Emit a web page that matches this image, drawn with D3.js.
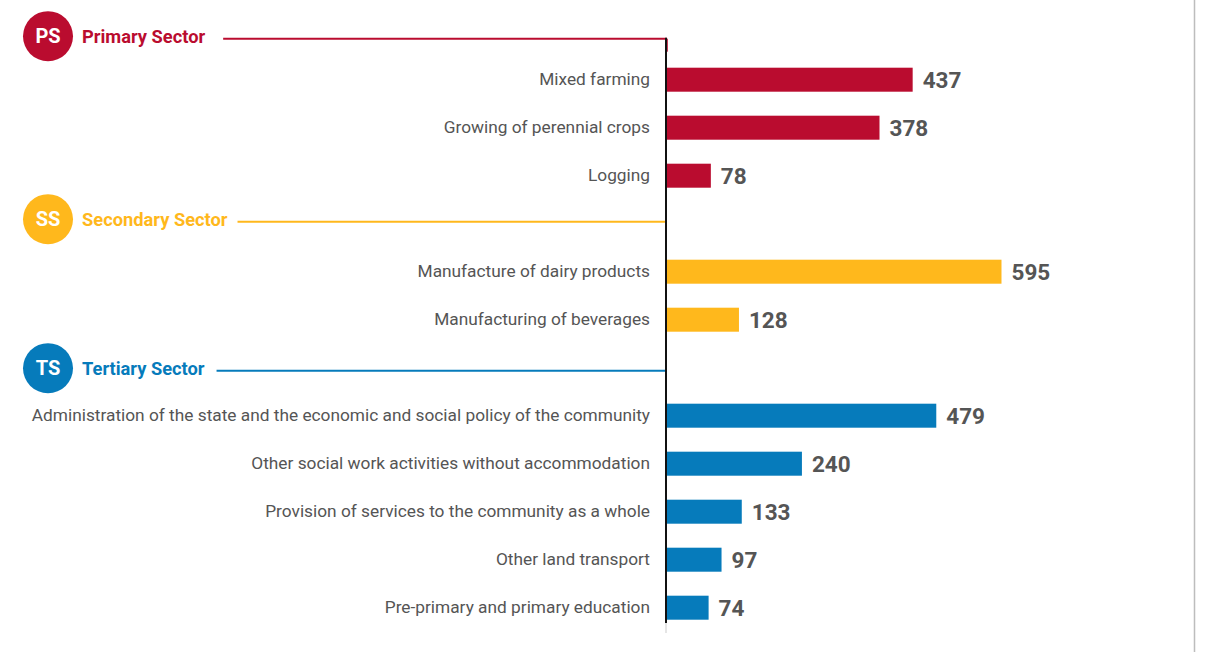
<!DOCTYPE html>
<html>
<head>
<meta charset="utf-8">
<script src="https://cdn.jsdelivr.net/npm/d3@7"></script>
<style>
  html, body { margin: 0; padding: 0; background: #fff; }
  svg { display: block; font-family: Roboto, "Noto Sans", sans-serif; }
</style>
</head>
<body>
<svg id="chart" width="1207" height="652"></svg>
<script>
// Sectors, in drawing order
const sectorCodes  = ["PS", "SS", "TS"];
const sectorNames  = ["Primary Sector", "Secondary Sector", "Tertiary Sector"];
const sectorColors = ["#ba0c2f", "#ffb81c", "#067bbb"];

// Activities and their values, grouped by sector
const primaryActivities   = ["Mixed farming", "Growing of perennial crops", "Logging"];
const primaryValues       = [437, 378, 78];
const secondaryActivities = ["Manufacture of dairy products", "Manufacturing of beverages"];
const secondaryValues     = [595, 128];
const tertiaryActivities  = [
  "Administration of the state and the economic and social policy of the community",
  "Other social work activities without accommodation",
  "Provision of services to the community as a whole",
  "Other land transport",
  "Pre-primary and primary education"
];
const tertiaryValues      = [479, 240, 133, 97, 74];

const groups = [
  { code: sectorCodes[0], name: sectorNames[0], color: sectorColors[0], labels: primaryActivities,   values: primaryValues },
  { code: sectorCodes[1], name: sectorNames[1], color: sectorColors[1], labels: secondaryActivities, values: secondaryValues },
  { code: sectorCodes[2], name: sectorNames[2], color: sectorColors[2], labels: tertiaryActivities,  values: tertiaryValues }
];

// One row per header and per activity
const rows = [];
groups.forEach((g, gi) => {
  rows.push({ key: "h" + gi, header: true, group: g });
  g.labels.forEach((l, i) => rows.push({ key: "r" + gi + "_" + i, header: false, group: g, label: l, value: g.values[i] }));
});

const svg = d3.select("#chart");
const axisX = 666;

const x = d3.scaleLinear().domain([0, 600]).range([axisX + 1, axisX + 1 + 337.3]);
const y = d3.scaleBand()
  .domain(rows.map(r => r.key))
  .range([7.7, 631.7])
  .paddingInner(0.5)
  .paddingOuter(0.25);
const yc = k => y(k) + y.bandwidth() / 2;

// Right frame line
svg.append("line")
  .attr("x1", 1194.5).attr("x2", 1194.5).attr("y1", 0).attr("y2", 652)
  .attr("stroke", "#bdbdbd").attr("stroke-width", 1.5);

// Header row positions: first sits above its group, later ones between groups
const headerNudge = [0, -2, 3];
const headerY = groups.map((g, gi) => {
  const first = yc("r" + gi + "_0");
  if (gi === 0) return first - 41;
  const prevLast = yc("r" + (gi - 1) + "_" + (groups[gi - 1].labels.length - 1));
  return (prevLast + first) / 2 + headerNudge[gi];
});
const ruleGap = [18, 10, 12];

// Sector headers: badge, name and rule running to the axis
groups.forEach((g, gi) => {
  const hy = headerY[gi];
  const hg = svg.append("g");
  hg.append("circle").attr("cx", 48).attr("cy", hy - 2.5).attr("r", 25).attr("fill", g.color);
  hg.append("text").attr("x", 48).attr("y", hy - 2.5).attr("dy", "0.36em")
    .attr("text-anchor", "middle").attr("fill", "#fff")
    .attr("font-size", 20).attr("font-weight", 700).text(g.code);
  const t = hg.append("text").attr("x", 82).attr("y", hy - 1).attr("dy", "0.3em")
    .attr("fill", g.color).attr("font-size", 18.3).attr("font-weight", 700).text(g.name);
  const tw = t.node().getComputedTextLength();
  hg.append("line")
    .attr("x1", 82 + tw + ruleGap[gi]).attr("x2", axisX + 1)
    .attr("y1", hy).attr("y2", hy)
    .attr("stroke", g.color).attr("stroke-width", 2);
});

// Small accent below the first rule at the top of the axis
svg.append("line")
  .attr("x1", axisX + 1.5).attr("x2", axisX + 1.5)
  .attr("y1", headerY[0]).attr("y2", headerY[0] + 13)
  .attr("stroke", sectorColors[0]).attr("stroke-width", 1).attr("opacity", 0.8);

const items = rows.filter(r => !r.header);

// Bars
svg.append("g").selectAll("rect").data(items).join("rect")
  .attr("x", x(0))
  .attr("y", d => y(d.key))
  .attr("width", d => x(d.value) - x(0))
  .attr("height", y.bandwidth())
  .attr("fill", d => d.group.color);

// Category labels
svg.append("g").selectAll("text").data(items).join("text")
  .attr("x", 650)
  .attr("y", d => yc(d.key))
  .attr("dy", "0.3em")
  .attr("text-anchor", "end")
  .attr("fill", "#555")
  .attr("font-size", 17.3)
  .text(d => d.label);

// Value labels
svg.append("g").selectAll("text").data(items).join("text")
  .attr("x", d => x(d.value) + 10)
  .attr("y", d => yc(d.key))
  .attr("dy", "0.36em")
  .attr("fill", "#555")
  .attr("font-size", 22.5)
  .attr("font-weight", 700)
  .text(d => d.value);

// Vertical axis
svg.append("line")
  .attr("x1", axisX).attr("x2", axisX).attr("y1", 623).attr("y2", 633)
  .attr("stroke", "#ddd").attr("stroke-width", 1.5);
svg.append("line")
  .attr("x1", axisX).attr("x2", axisX).attr("y1", headerY[0] - 1).attr("y2", 623)
  .attr("stroke", "#111").attr("stroke-width", 2);
</script>
</body>
</html>
